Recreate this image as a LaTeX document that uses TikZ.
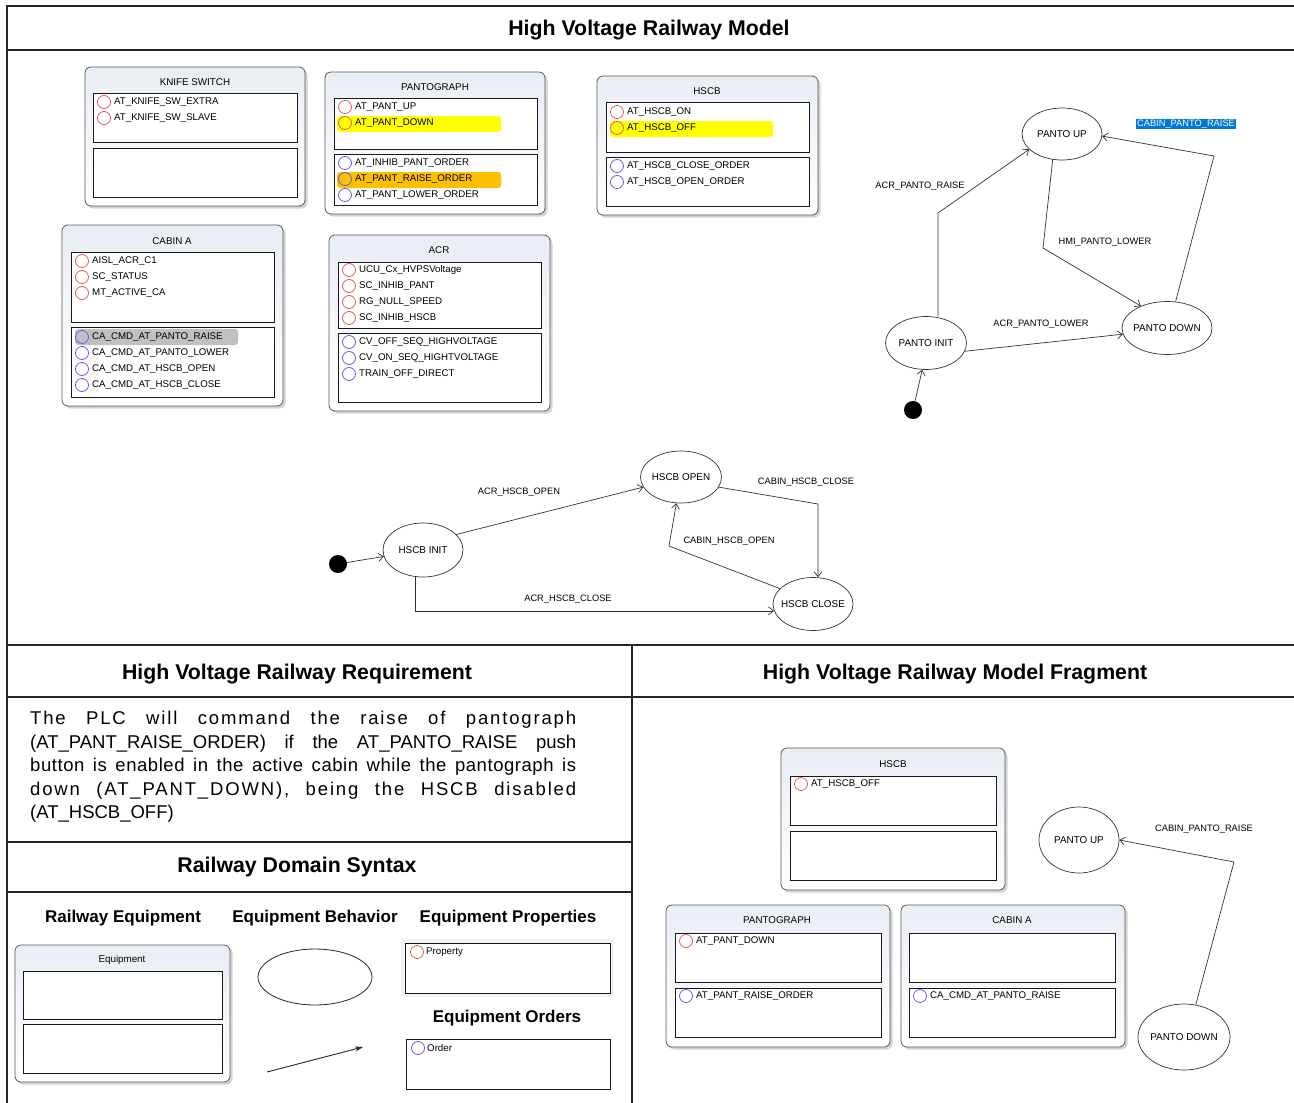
\documentclass[tikz,border=0pt]{standalone}
\usepackage{fontspec}
\setmainfont{Liberation Sans}
\newfontfamily\reqwide[LetterSpace=10]{Liberation Sans}
\newfontfamily\reqmid[LetterSpace=3]{Liberation Sans}
\usetikzlibrary{shapes.geometric, shadows, arrows.meta}

\definecolor{propred}{RGB}{232,90,90}
\definecolor{ordblue}{RGB}{95,95,235}
\definecolor{hlyellow}{RGB}{255,255,0}
\definecolor{hlorange}{RGB}{255,192,0}
\definecolor{hlgrey}{RGB}{192,192,192}
\definecolor{selblue}{RGB}{0,120,215}
\definecolor{boxtop}{RGB}{233,238,245}

\begin{document}
\begin{tikzpicture}[x=1pt,y=-1pt,
    frame/.style={draw=black!85, line width=1.1pt},
    title/.style={font=\fontsize{21.3}{24}\selectfont\bfseries, inner sep=0pt},
    head/.style={font=\fontsize{17}{20}\selectfont\bfseries, inner sep=0pt},
    equip/.style={draw=black!65, line width=.8pt, rounded corners=6pt, top color=boxtop, bottom color=white,
        drop shadow={shadow xshift=2.5pt, shadow yshift=-2.5pt, opacity=.35}},
    eqname/.style={font=\fontsize{9.8}{11}\selectfont, inner sep=0pt},
    slot/.style={draw=black!90, line width=.9pt, fill=white},
    hilite/.style={rounded corners=3pt},
    prop/.style={circle, draw=propred, line width=.8pt, minimum size=13pt, inner sep=0pt},
    order/.style={circle, draw=ordblue, line width=.8pt, minimum size=13pt, inner sep=0pt},
    item/.style={anchor=west, inner sep=0pt, font=\fontsize{9.7}{11}\selectfont},
    state/.style={ellipse, draw=black!80, line width=.7pt, inner sep=0pt, minimum width=80pt, minimum height=53pt,
        label={[font=\fontsize{9.9}{11}\selectfont]center:#1}},
    start/.style={circle, fill=black, minimum size=18pt, inner sep=0pt},
    trans/.style={draw=black!80, line width=.7pt, -{Straight Barb[length=5pt,width=8pt]}},
    tlabel/.style={inner sep=0pt, font=\fontsize{9.3}{11}\selectfont},
    req/.style={anchor=base west, inner sep=0pt, font=\fontsize{18.5}{21}\selectfont}
    ]
    \useasboundingbox (0,0) rectangle (1294,1103);

    % frame
    \draw[frame] (7,1103) -- (7,6) -- (1294,6);
    \draw[frame] (7,50) -- (1294,50);
    \draw[frame] (7,645) -- (1294,645);
    \draw[frame] (7,697) -- (1294,697);
    \draw[frame] (632,645) -- (632,1103);
    \draw[frame] (7,842) -- (632,842);
    \draw[frame] (7,892) -- (632,892);

    % titles
    \node[title] (tmodel) at (649,30) {High Voltage Railway Model};
    \node[title] (treq) at (297,674) {High Voltage Railway Requirement};
    \node[title] (tfrag) at (955,674) {High Voltage Railway Model Fragment};
    \node[title] (tsyn) at (297,867) {Railway Domain Syntax};

    %%%%% equipment: KNIFE SWITCH
    \draw[equip] (85,67) rectangle (305,206);
    \node[eqname] (knife) at (195,82) {KNIFE SWITCH};
    \draw[slot] (93,93) rectangle (297,142);
    \draw[slot] (93,148) rectangle (297,197);
    \node[prop] (kn1c) at (104,102) {};
    \node[item] (kn1) at (114,102) {AT\_KNIFE\_SW\_EXTRA};
    \node[prop] (kn2c) at (104,118) {};
    \node[item] (kn2) at (114,118) {AT\_KNIFE\_SW\_SLAVE};

    %%%%% equipment: PANTOGRAPH
    \draw[equip] (325,72) rectangle (545,214);
    \node[eqname] (panto) at (435,87) {PANTOGRAPH};
    \draw[slot] (334,98) rectangle (537,149);
    \draw[slot] (334,154) rectangle (537,205);
    \fill[hilite, hlyellow] (337,116) rectangle (501,132);
    \fill[hilite, hlorange] (337,172) rectangle (501,188);
    \node[prop] (pa1c) at (345,107) {};
    \node[item] (pa1) at (355,107) {AT\_PANT\_UP};
    \node[prop] (pa2c) at (345,123) {};
    \node[item] (pa2) at (355,123) {AT\_PANT\_DOWN};
    \node[order] (pa3c) at (345,163) {};
    \node[item] (pa3) at (355,163) {AT\_INHIB\_PANT\_ORDER};
    \node[order] (pa4c) at (345,179) {};
    \node[item] (pa4) at (355,179) {AT\_PANT\_RAISE\_ORDER};
    \node[order] (pa5c) at (345,195) {};
    \node[item] (pa5) at (355,195) {AT\_PANT\_LOWER\_ORDER};

    %%%%% equipment: HSCB
    \draw[equip] (597,76) rectangle (818,215);
    \node[eqname] (hscb) at (707,91) {HSCB};
    \draw[slot] (606,102) rectangle (809,152);
    \draw[slot] (606,157) rectangle (809,206);
    \fill[hilite, hlyellow] (610,121) rectangle (773,137);
    \node[prop] (hs1c) at (617,112) {};
    \node[item] (hs1) at (627,112) {AT\_HSCB\_ON};
    \node[prop] (hs2c) at (617,128) {};
    \node[item] (hs2) at (627,128) {AT\_HSCB\_OFF};
    \node[order] (hs3c) at (617,166) {};
    \node[item] (hs3) at (627,166) {AT\_HSCB\_CLOSE\_ORDER};
    \node[order] (hs4c) at (617,182) {};
    \node[item] (hs4) at (627,182) {AT\_HSCB\_OPEN\_ORDER};

    %%%%% equipment: CABIN A
    \draw[equip] (62,225) rectangle (283,406);
    \node[eqname] (cabin) at (172,241) {CABIN A};
    \draw[slot] (71,252) rectangle (274,322);
    \draw[slot] (71,327) rectangle (274,397);
    \fill[hilite, hlgrey] (75,329) rectangle (238,345);
    \node[prop] (ca1c) at (82,261) {};
    \node[item] (ca1) at (92,261) {AISL\_ACR\_C1};
    \node[prop] (ca2c) at (82,277) {};
    \node[item] (ca2) at (92,277) {SC\_STATUS};
    \node[prop] (ca3c) at (82,293) {};
    \node[item] (ca3) at (92,293) {MT\_ACTIVE\_CA};
    \node[order] (ca4c) at (82,337) {};
    \node[item] (ca4) at (92,337) {CA\_CMD\_AT\_PANTO\_RAISE};
    \node[order] (ca5c) at (82,353) {};
    \node[item] (ca5) at (92,353) {CA\_CMD\_AT\_PANTO\_LOWER};
    \node[order] (ca6c) at (82,369) {};
    \node[item] (ca6) at (92,369) {CA\_CMD\_AT\_HSCB\_OPEN};
    \node[order] (ca7c) at (82,385) {};
    \node[item] (ca7) at (92,385) {CA\_CMD\_AT\_HSCB\_CLOSE};

    %%%%% equipment: ACR
    \draw[equip] (329,235) rectangle (550,411);
    \node[eqname] (acr) at (439,250) {ACR};
    \draw[slot] (338,262) rectangle (541,328);
    \draw[slot] (338,333) rectangle (541,402);
    \node[prop] (ac1c) at (349,270) {};
    \node[item] (ac1) at (359,270) {UCU\_Cx\_HVPSVoltage};
    \node[prop] (ac2c) at (349,286) {};
    \node[item] (ac2) at (359,286) {SC\_INHIB\_PANT};
    \node[prop] (ac3c) at (349,302) {};
    \node[item] (ac3) at (359,302) {RG\_NULL\_SPEED};
    \node[prop] (ac4c) at (349,318) {};
    \node[item] (ac4) at (359,318) {SC\_INHIB\_HSCB};
    \node[order] (ac5c) at (349,342) {};
    \node[item] (ac5) at (359,342) {CV\_OFF\_SEQ\_HIGHVOLTAGE};
    \node[order] (ac6c) at (349,358) {};
    \node[item] (ac6) at (359,358) {CV\_ON\_SEQ\_HIGHTVOLTAGE};
    \node[order] (ac7c) at (349,374) {};
    \node[item] (ac7) at (359,374) {TRAIN\_OFF\_DIRECT};

    %%%%% behaviour: pantograph
    \node[state={PANTO UP}, minimum height=52pt] (pup) at (1062,134) {};
    \node[state={PANTO INIT}, minimum width=81pt] (pinit) at (926,343) {};
    \node[state={PANTO DOWN}, minimum width=90pt] (pdown) at (1167,328) {};
    \node[start] (pstart) at (913,410) {};
    \coordinate (praise) at (938,213);
    \coordinate (plower) at (1043,248);
    \coordinate (pcabin) at (1214,156);
    \draw[trans] (pstart) -- (pinit.262);
    \draw[trans] (pinit.north -| praise) -- (praise) -- (pup.205);
    \draw[trans] (pup.250) -- (plower) -- (pdown.140);
    \draw[trans] (pinit.348) -- (pdown.188);
    \draw[trans] (pdown.72) -- (pcabin) -- (pup.357);
    \node[tlabel] (lpraise) at (920,186) {ACR\_PANTO\_RAISE};
    \node[tlabel] (lphmi) at (1105,242) {HMI\_PANTO\_LOWER};
    \node[tlabel] (lplower) at (1041,324) {ACR\_PANTO\_LOWER};
    \node[tlabel, fill=selblue, text=white, inner sep=1pt] (lpcabin) at (1186,124) {CABIN\_PANTO\_RAISE};

    %%%%% behaviour: HSCB
    \node[state={HSCB INIT}, minimum height=54pt] (hinit) at (423,550) {};
    \node[state={HSCB OPEN}, minimum width=81pt, minimum height=52pt] (hopen) at (681,477) {};
    \node[state={HSCB CLOSE}] (hclose) at (813,604) {};
    \node[start] (hstart) at (338,564) {};
    \coordinate (hcl) at (818,504);
    \coordinate (hop) at (669,546);
    \draw[trans] (hstart) -- (hinit);
    \draw[trans] (hinit.25) -- (hopen.195);
    \draw[trans] (hopen.345) -- (hcl) -- (hclose.north -| hcl);
    \draw[trans] (hclose.155) -- (hop) -- (hopen.260);
    \draw[trans] (hinit.255) |- (hclose.190);
    \node[tlabel] (lhopen) at (519,492) {ACR\_HSCB\_OPEN};
    \node[tlabel] (lhcabcl) at (806,482) {CABIN\_HSCB\_CLOSE};
    \node[tlabel] (lhcabop) at (729,541) {CABIN\_HSCB\_OPEN};
    \node[tlabel] (lhclose) at (568,599) {ACR\_HSCB\_CLOSE};

    %%%%% requirement text
    \node[req] (req1) at (30,724) {\makebox[546pt][s]{\reqwide The PLC will command the raise of pantograph}};
    \node[req] (req2) at (30,748) {\makebox[546pt][s]{(AT\_PANT\_RAISE\_ORDER) if the AT\_PANTO\_RAISE push}};
    \node[req] (req3) at (30,771) {\makebox[546pt][s]{\reqmid button is enabled in the active cabin while the pantograph is}};
    \node[req] (req4) at (30,795) {\makebox[546pt][s]{\reqwide down (AT\_PANT\_DOWN), being the HSCB disabled}};
    \node[req] (req5) at (30,818) {(AT\_HSCB\_OFF)};

    %%%%% domain syntax
    \node[head] (hequip) at (123,918) {Railway Equipment};
    \node[head] (hbehav) at (315,918) {Equipment Behavior};
    \node[head] (hprop) at (508,918) {Equipment Properties};
    \node[head] (horder) at (507,1018) {Equipment Orders};
    \draw[equip] (15,945) rectangle (230,1082);
    \node[eqname] (equipname) at (122,960) {Equipment};
    \draw[slot] (23,971) rectangle (222,1019);
    \draw[slot] (23,1024) rectangle (222,1073);
    \node[ellipse, draw=black!85, line width=.8pt, minimum width=114pt, minimum height=56pt] (behav) at (315,977) {};
    \coordinate (arrA) at (267,1072);
    \coordinate (arrB) at (363,1047);
    \draw[black!85, line width=.9pt, -{Stealth[length=8pt,width=5pt]}] (arrA) -- (arrB);
    \fill[black!5] (401,939) rectangle (614,997);
    \draw[slot] (405,943) rectangle (610,993);
    \node[prop] (spropc) at (417,952) {};
    \node[item] (sprop) at (426,952) {Property};
    \draw[slot] (406,1039) rectangle (610,1089);
    \node[order] (sorderc) at (418,1048) {};
    \node[item] (sorder) at (427,1048) {Order};

    %%%%% model fragment
    \draw[equip] (781,748) rectangle (1005,890);
    \node[eqname] (fhscb) at (893,764) {HSCB};
    \draw[slot] (790,776) rectangle (996,825);
    \draw[slot] (790,831) rectangle (996,880);
    \node[prop] (fh1c) at (801,784) {};
    \node[item] (fh1) at (811,784) {AT\_HSCB\_OFF};

    \draw[equip] (666,905) rectangle (890,1047);
    \node[eqname] (fpanto) at (777,920) {PANTOGRAPH};
    \draw[slot] (675,933) rectangle (881,982);
    \draw[slot] (675,988) rectangle (881,1037);
    \node[prop] (fp1c) at (686,941) {};
    \node[item] (fp1) at (696,941) {AT\_PANT\_DOWN};
    \node[order] (fp2c) at (686,996) {};
    \node[item] (fp2) at (696,996) {AT\_PANT\_RAISE\_ORDER};

    \draw[equip] (901,905) rectangle (1125,1047);
    \node[eqname] (fcab) at (1012,920) {CABIN A};
    \draw[slot] (909,933) rectangle (1115,982);
    \draw[slot] (909,988) rectangle (1115,1037);
    \node[order] (fc1c) at (920,996) {};
    \node[item] (fc1) at (930,996) {CA\_CMD\_AT\_PANTO\_RAISE};

    \node[state={PANTO UP}, minimum height=66pt] (fpup) at (1079,840) {};
    \node[state={PANTO DOWN}, minimum width=92pt, minimum height=66pt] (fpdown) at (1184,1037) {};
    \coordinate (fcabin) at (1234,862);
    \draw[trans] (fpdown.70) -- (fcabin) -- (fpup.east);
    \node[tlabel] (lfcabin) at (1204,829) {CABIN\_PANTO\_RAISE};
\end{tikzpicture}
\end{document}
